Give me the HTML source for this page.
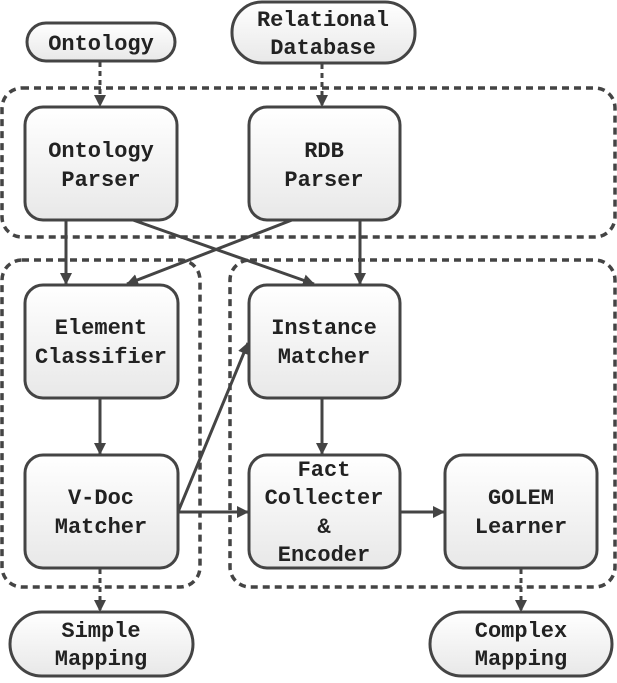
<!DOCTYPE html>
<html><head><style>body{margin:0;background:#fff} text{font-family:"Liberation Mono",monospace;font-weight:bold;font-size:22px}</style></head><body>
<svg width="617" height="678" viewBox="0 0 617 678" xmlns="http://www.w3.org/2000/svg" fill="#222">
<defs>
<linearGradient id="g" x1="0" y1="0" x2="0" y2="1"><stop offset="0" stop-color="#ffffff"/><stop offset="1" stop-color="#e8e8e8"/></linearGradient>
<marker id="a" markerWidth="12" markerHeight="12" refX="11" refY="6" orient="auto" markerUnits="userSpaceOnUse"><path d="M0,0 L12,6 L0,12 z" fill="#444"/></marker>
</defs>
<g fill="none" stroke="#444" stroke-width="3.5" stroke-dasharray="7,5">
<rect x="2" y="88" width="613" height="149" rx="20"/>
<rect x="2" y="260" width="198" height="327" rx="20"/>
<rect x="230" y="260" width="385" height="327" rx="20"/>
</g>
<g stroke="#444" stroke-width="3" fill="none">
<line x1="100" y1="62" x2="100" y2="106" stroke-dasharray="5,4" marker-end="url(#a)"/>
<line x1="322" y1="64" x2="322" y2="106" stroke-dasharray="5,4" marker-end="url(#a)"/>
<line x1="100" y1="569" x2="100" y2="611" stroke-dasharray="5,4" marker-end="url(#a)"/>
<line x1="521" y1="569" x2="521" y2="611" stroke-dasharray="5,4" marker-end="url(#a)"/>
<line x1="66" y1="220" x2="66" y2="284" marker-end="url(#a)"/>
<line x1="133" y1="220" x2="314" y2="284" marker-end="url(#a)"/>
<line x1="292" y1="220" x2="127" y2="284" marker-end="url(#a)"/>
<line x1="360" y1="220" x2="360" y2="284" marker-end="url(#a)"/>
<line x1="100" y1="398" x2="100" y2="454" marker-end="url(#a)"/>
<line x1="322" y1="398" x2="322" y2="454" marker-end="url(#a)"/>
<line x1="178" y1="512" x2="248" y2="512" marker-end="url(#a)"/>
<line x1="178" y1="512" x2="248" y2="343" marker-end="url(#a)"/>
<line x1="400" y1="512" x2="444" y2="512" marker-end="url(#a)"/>
</g>
<g fill="url(#g)" stroke="#444" stroke-width="3">
<rect x="27" y="23" width="148" height="38" rx="19"/>
<rect x="232" y="2" width="183" height="61" rx="30"/>
<rect x="25" y="107" width="152" height="113" rx="18"/>
<rect x="249" y="107" width="151" height="113" rx="18"/>
<rect x="25" y="285" width="153" height="113" rx="18"/>
<rect x="249" y="285" width="151" height="113" rx="18"/>
<rect x="25" y="455" width="153" height="113" rx="18"/>
<rect x="249" y="455" width="151" height="113" rx="18"/>
<rect x="445" y="455" width="152" height="113" rx="18"/>
<rect x="10" y="612" width="183" height="64" rx="32"/>
<rect x="430" y="612" width="182" height="64" rx="32"/>
</g>
<g text-anchor="middle">
<text x="101" y="50">Ontology</text>
<text x="323" y="26">Relational</text><text x="323" y="54">Database</text>
<text x="101" y="157">Ontology</text><text x="101" y="186">Parser</text>
<text x="324" y="157">RDB</text><text x="324" y="186">Parser</text>
<text x="101" y="334">Element</text><text x="101" y="363">Classifier</text>
<text x="324" y="334">Instance</text><text x="324" y="363">Matcher</text>
<text x="101" y="504">V-Doc</text><text x="101" y="533">Matcher</text>
<text x="324" y="476">Fact</text><text x="324" y="504">Collecter</text><text x="324" y="533">&amp;</text><text x="324" y="561">Encoder</text>
<text x="521" y="504">GOLEM</text><text x="521" y="533">Learner</text>
<text x="101" y="637">Simple</text><text x="101" y="665">Mapping</text>
<text x="521" y="637">Complex</text><text x="521" y="665">Mapping</text>
</g>
</svg>
</body></html>
